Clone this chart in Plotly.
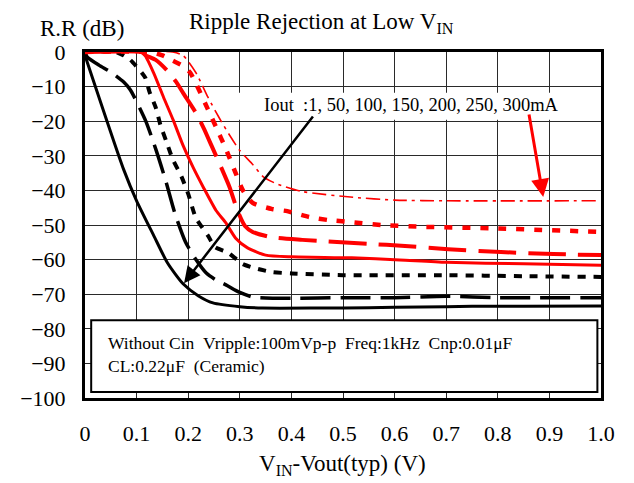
import plotly.graph_objects as go

# ---------------- data ----------------
x_1mA = [0.0, 0.075, 0.1, 0.133, 0.16, 0.19, 0.22, 0.248, 0.3, 0.344, 0.45, 0.55, 0.65, 0.75, 0.85, 1.0]
y_1mA = [-1, -34, -43, -53, -61, -67, -70.5, -72.5, -73.6, -74.0, -74.0, -73.9, -73.7, -73.5, -73.5, -73.4]

x_50mA = [0.0, 0.004, 0.027, 0.05, 0.075, 0.088, 0.117, 0.137, 0.156, 0.175, 0.195, 0.215, 0.235, 0.254,
          0.273, 0.3, 0.325, 0.4, 0.5, 0.6, 0.7, 0.8, 1.0]
y_50mA = [0, -1.4, -3.8, -5.8, -8.7, -11, -19.7, -28, -37, -47, -55, -60, -63.9, -65.9,
          -67.3, -69.5, -70.8, -71.2, -71.0, -71.0, -70.6, -71.0, -71.0]

x_100mA = [0.0, 0.06, 0.075, 0.088, 0.11, 0.117, 0.125, 0.137, 0.146, 0.158, 0.17, 0.187, 0.2, 0.215,
           0.238, 0.252, 0.277, 0.306, 0.335, 0.363, 0.4, 0.5, 0.7, 0.85, 1.0]
y_100mA = [0, 0, -1, -2.3, -6, -7.5, -11.5, -16, -21, -26, -31, -36, -41, -48,
           -53, -56.4, -58, -61.3, -62.7, -63.6, -64.0, -64.5, -64.5, -64.8, -65.0]

x_150mA = [0.0, 0.1, 0.113, 0.133, 0.152, 0.171, 0.19, 0.21, 0.229, 0.254, 0.273, 0.292, 0.315, 0.35,
           0.4, 0.517, 0.61, 0.7, 0.85, 1.0]
y_150mA = [0, 0, -0.3, -6, -13, -19.7, -27, -33.5, -39, -45.8, -49.4, -53.8, -56.6, -58.7,
           -59.2, -59.5, -60.1, -60.8, -61.2, -61.6]

x_200mA = [0.0, 0.11, 0.117, 0.137, 0.158, 0.177, 0.19, 0.215, 0.23, 0.245, 0.262, 0.28, 0.296, 0.31,
           0.325, 0.36, 0.421, 0.556, 0.613, 0.704, 0.806, 0.908, 1.0]
y_200mA = [0, 0, -0.9, -2.3, -5.2, -8.7, -11.8, -17.6, -22, -27, -32.7, -39, -46, -50.3,
           -52, -53.5, -54.3, -55.5, -56, -57, -57.8, -58.4, -58.7]

x_250mA = [0.0, 0.125, 0.15, 0.17, 0.19, 0.204, 0.221, 0.238, 0.254, 0.273, 0.292, 0.306, 0.325, 0.363,
           0.392, 0.435, 0.473, 0.512, 0.575, 0.65, 0.8, 1.0]
y_250mA = [0, 0, -1, -2.5, -4, -6, -11, -16.5, -21.7, -28, -35, -40, -43.6, -45.4,
           -46, -47.7, -48.6, -49.1, -50, -50.5, -51, -52]

x_300mA = [0.0, 0.17, 0.19, 0.215, 0.238, 0.26, 0.28, 0.3, 0.325, 0.345, 0.37, 0.42, 0.52, 0.6, 0.7, 1.0]
y_300mA = [0, 0, -1, -6, -13, -19, -24, -28.5, -32.5, -36, -38, -40.3, -42, -42.8, -43, -43]

x_ticks = [0, 0.1, 0.2, 0.3, 0.4, 0.5, 0.6, 0.7, 0.8, 0.9, 1.0]
x_tick_labels = ["0", "0.1", "0.2", "0.3", "0.4", "0.5", "0.6", "0.7", "0.8", "0.9", "1.0"]
y_ticks = [0, -10, -20, -30, -40, -50, -60, -70, -80, -90, -100]
y_tick_labels = ["0", "\u221210", "\u221220", "\u221230", "\u221240", "\u221250",
                 "\u221260", "\u221270", "\u221280", "\u221290", "\u2212100"]

series = [
    ("1mA", x_1mA, y_1mA, "black", 3, "solid"),
    ("50mA", x_50mA, y_50mA, "black", 3.5, "30px,10px"),
    ("100mA", x_100mA, y_100mA, "black", 4, "8px,8px"),
    ("150mA", x_150mA, y_150mA, "#ff0000", 3, "solid"),
    ("200mA", x_200mA, y_200mA, "#ff0000", 4, "38px,12px"),
    ("250mA", x_250mA, y_250mA, "#ff0000", 4.5, "8px,10px"),
    ("300mA", x_300mA, y_300mA, "#ff0000", 1.6, "14px,5px,3px,5px"),
]

FONT = "Liberation Serif"

fig = go.Figure()
for name, xs, ys, color, width, dash in series:
    fig.add_trace(go.Scatter(
        x=xs, y=ys, mode="lines", name=name,
        line=dict(color=color, width=width, dash=dash, shape="spline", smoothing=0.6),
        showlegend=False, hoverinfo="skip"))

# white label band and the condition box
fig.add_shape(type="rect", xref="x", yref="y", x0=0.29, x1=0.995, y0=-19.6, y1=-11.8,
              fillcolor="white", line=dict(width=0), layer="between")
fig.add_shape(type="rect", xref="x", yref="y", x0=0.012, x1=0.993, y0=-98.3, y1=-77.5,
              fillcolor="white", line=dict(color="black", width=2), layer="between")

# page offset: the browser body adds an 8px margin
OFF = 8
L, R, T, B = 81 - OFF, 33, 52 - OFF, 85
W, H = 634 - OFF, 483 - OFF

annotations = [
    dict(text="Iout\u00a0\u00a0:1, 50, 100, 150, 200, 250, 300mA", x=0.633, y=-15.4,
         xref="x", yref="y", showarrow=False, font=dict(family=FONT, size=18.5, color="black")),
    dict(text="", x=0.192, y=-66.8, ax=0.444, ay=-18.2, xref="x", yref="y", axref="x", ayref="y",
         showarrow=True, arrowhead=2, arrowsize=1.3, arrowwidth=2.5, arrowcolor="black"),
    dict(text="", x=0.888, y=-41.9, ax=0.86, ay=-17.6, xref="x", yref="y", axref="x", ayref="y",
         showarrow=True, arrowhead=2, arrowsize=1.2, arrowwidth=3, arrowcolor="#ff0000"),
    dict(text="Without Cin\u00a0\u00a0Vripple:100mVp-p\u00a0\u00a0Freq:1kHz\u00a0\u00a0Cnp:0.01\u03bcF<br>"
              "CL:0.22\u03bcF\u00a0\u00a0(Ceramic)",
         x=0.04, y=-87.5, xref="x", yref="y", xanchor="left", yanchor="middle", align="left",
         showarrow=False, font=dict(family=FONT, size=17.5, color="black")),
    # (page-pixel positions, converted below)
    dict(text="Ripple Rejection at Low V<sub>IN</sub>", x=319, y=23, xref="paper", yref="paper",
         showarrow=False, font=dict(family=FONT, size=23, color="black")),
    dict(text="R.R (dB)", x=78, y=29, xref="paper", yref="paper",
         showarrow=False, font=dict(family=FONT, size=23, color="black")),
    dict(text="V<sub>IN</sub>-Vout(typ) (V)", x=340, y=465, xref="paper", yref="paper",
         showarrow=False, font=dict(family=FONT, size=23, color="black")),
]

PW, PH = W - L - R, H - T - B
for a in annotations:
    if a.get("xref") == "paper":
        a["x"] = (a["x"] - OFF - L) / PW
        a["y"] = 1 - (a["y"] - OFF - T) / PH
        a["xanchor"] = "center"
        a["yanchor"] = "middle"

fig.update_layout(
    width=W, height=H,
    margin=dict(l=L, r=R, t=T, b=B),
    paper_bgcolor="white", plot_bgcolor="white",
    font=dict(family=FONT, color="black"),
    annotations=annotations,
    xaxis=dict(range=[0, 1], tickvals=x_ticks, ticktext=x_tick_labels,
               showgrid=True, gridcolor="#2a2a2a", gridwidth=1.2,
               showline=True, linecolor="black", linewidth=3, mirror=True,
               ticks="outside", ticklen=0, ticklabelstandoff=14,
               tickfont=dict(family=FONT, size=22, color="black"), zeroline=False),
    yaxis=dict(range=[-100, 0], tickvals=y_ticks, ticktext=y_tick_labels,
               showgrid=True, gridcolor="#2a2a2a", gridwidth=1.2,
               showline=True, linecolor="black", linewidth=3, mirror=True,
               ticks="outside", ticklen=0, ticklabelstandoff=12,
               tickfont=dict(family=FONT, size=22, color="black"), zeroline=False),
)

fig.write_html("out.html")
